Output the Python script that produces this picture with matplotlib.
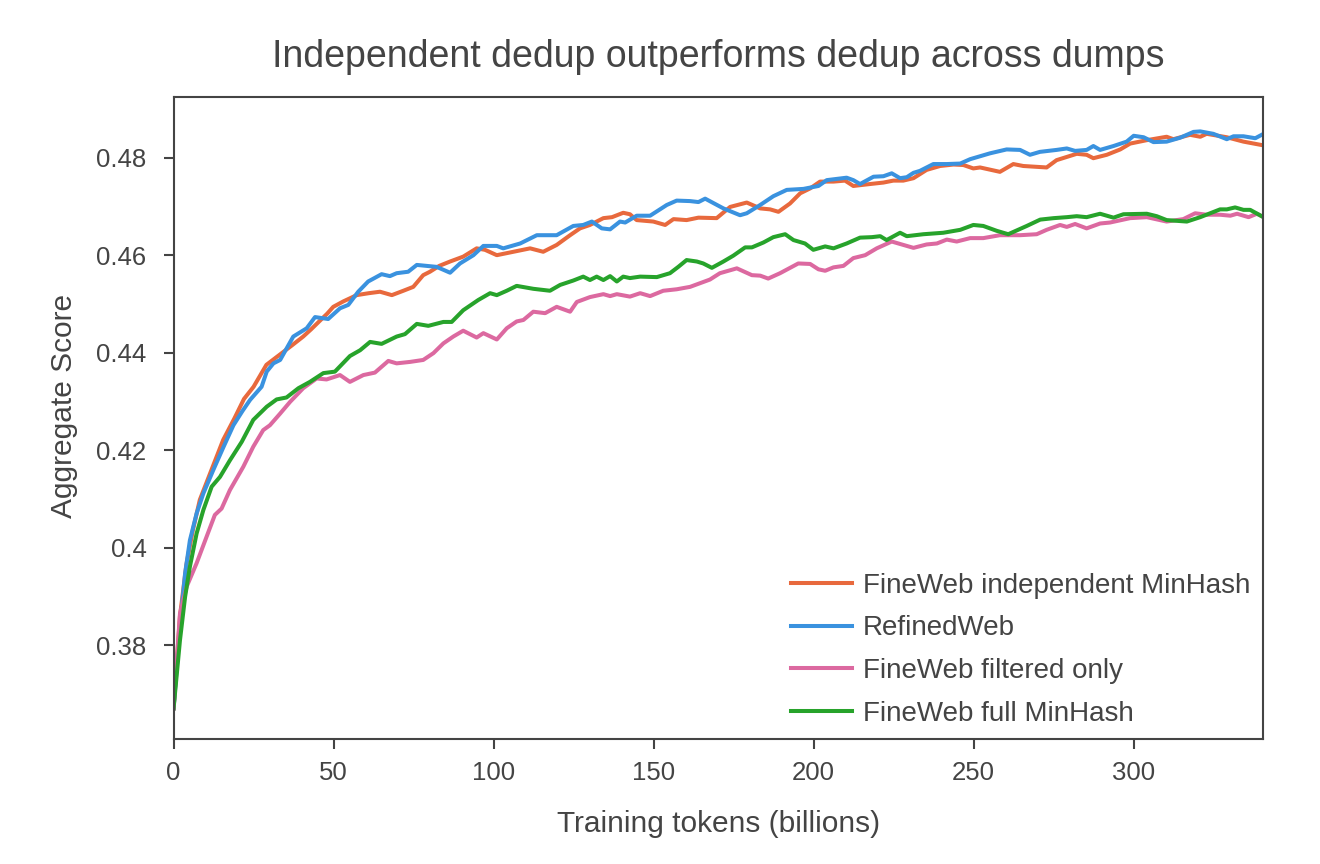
import matplotlib
matplotlib.use("Agg")
import matplotlib.pyplot as plt

plt.rcParams["font.family"] = ["Liberation Sans", "DejaVu Sans"]

# FineWeb independent MinHash
indep_x = [0, 2, 4, 6, 8.2, 11.4, 15.5, 19, 22, 25, 29, 31, 33.8, 37, 40.5, 43, 45.8, 48, 49.9, 53,
           57.2, 61, 64.5, 68.2, 71.8, 74.9, 78, 80.1, 83, 86.4, 90.5, 94.7, 97.3, 101, 106.2, 111.4,
           115.5, 119.7, 123.9, 127, 130.1, 134.3, 137, 140.5, 142.6, 144.7, 149.9, 153.6, 156.2,
           160.3, 164, 169.7, 173.9, 179.1, 183.3, 186.4, 189, 192.6, 195.8, 198.9, 202, 206.2, 209.8,
           212.4, 217.6, 221.8, 224.9, 228, 231.2, 235.3, 239.5, 243.7, 246.8, 249.9, 252, 258.2,
           262.4, 265.5, 272.8, 275.9, 282.2, 285.3, 287.4, 291.6, 295.8, 298.9, 304.1, 310.3, 312.4,
           317.6, 320.8, 322.8, 329.1, 334.3, 340]
indep_y = [0.367, 0.386, 0.3965, 0.4035, 0.4098, 0.4152, 0.4221, 0.4265, 0.4305, 0.433, 0.4375,
           0.4385, 0.4399, 0.4415, 0.4433, 0.4448, 0.4466, 0.448, 0.4494, 0.4505, 0.4518, 0.4522,
           0.4525, 0.4518, 0.4527, 0.4535, 0.4559, 0.4566, 0.4578, 0.4587, 0.4597, 0.4614, 0.4611,
           0.46, 0.4607, 0.4614, 0.4607, 0.4621, 0.4641, 0.4655, 0.4662, 0.4676, 0.4678, 0.4687,
           0.4684, 0.4672, 0.4669, 0.4662, 0.4674, 0.4672, 0.4677, 0.4676, 0.4699, 0.4708, 0.4696,
           0.4694, 0.4689, 0.4706, 0.4727, 0.4737, 0.4751, 0.4751, 0.4753, 0.4742, 0.4746, 0.4749,
           0.4753, 0.4753, 0.4758, 0.4775, 0.4783, 0.4786, 0.4785, 0.4778, 0.478, 0.4771, 0.4787,
           0.4783, 0.478, 0.4795, 0.4808, 0.4806, 0.4799, 0.4806, 0.4817, 0.4829, 0.4836, 0.4843,
           0.4838, 0.4847, 0.4843, 0.4849, 0.4842, 0.4833, 0.4826]

# RefinedWeb
refined_x = [0, 2, 3.6, 5.1, 7.2, 9.3, 12.4, 15.5, 18.7, 21.5, 23.9, 27.5, 29.1, 31.2, 33.3, 37.4,
             41.6, 44.2, 48.3, 52, 54.6, 57.7, 60.8, 65, 67.6, 69.7, 73.3, 76, 79.1, 82.2, 86.4, 89.5,
             93.7, 96.8, 101, 103, 108.3, 113.5, 119.7, 124.9, 128, 130.7, 133.8, 136.4, 139.5,
             141.1, 144.7, 148.9, 154.1, 157.2, 161.4, 164, 166.1, 171.8, 177, 179.1, 183.3, 187.4,
             191.6, 196.8, 201.5, 204.1, 210.3, 212.4, 214.5, 218.7, 221.8, 224.4, 227, 229.1, 231.2,
             233.2, 237.4, 241.6, 245.8, 248.9, 255.1, 260.3, 264.5, 267.6, 270.7, 275.9, 279.1,
             281.7, 285.3, 287.4, 289.5, 293.7, 297.8, 300, 303.1, 306.2, 310.3, 314.5, 318.7, 320.8,
             324.9, 329.1, 331.2, 334.3, 338, 340]
refined_y = [0.367, 0.384, 0.3947, 0.4015, 0.407, 0.4111, 0.4159, 0.4205, 0.4251, 0.428, 0.4303,
             0.433, 0.4361, 0.4378, 0.4385, 0.4433, 0.445, 0.4473, 0.4469, 0.4491, 0.4498, 0.4525,
             0.4546, 0.4561, 0.4557, 0.4563, 0.4566, 0.458, 0.4578, 0.4576, 0.4564, 0.4583, 0.46,
             0.4619, 0.4619, 0.4614, 0.4624, 0.4641, 0.4641, 0.466, 0.4662, 0.4669, 0.4655, 0.4653,
             0.4669, 0.4667, 0.4681, 0.4681, 0.4703, 0.4712, 0.4711, 0.4709, 0.4716, 0.4696, 0.4682,
             0.4686, 0.4703, 0.4721, 0.4734, 0.4736, 0.4742, 0.4754, 0.4759, 0.4754, 0.4746, 0.4761,
             0.4762, 0.4768, 0.4758, 0.476, 0.4769, 0.4773, 0.4787, 0.4787, 0.4788, 0.4797, 0.4809,
             0.4817, 0.4816, 0.4806, 0.4812, 0.4816, 0.4819, 0.4814, 0.4816, 0.4824, 0.4816, 0.4824,
             0.4833, 0.4845, 0.4842, 0.4832, 0.4833, 0.4841, 0.4853, 0.4854, 0.4849, 0.4838, 0.4844,
             0.4844, 0.484, 0.4847]

# FineWeb filtered only
filtered_x = [0, 2, 4.1, 7.2, 10.3, 12.9, 15, 17.6, 21.8, 24.9, 28, 30.1, 33.3, 36.4, 40.5, 44.7,
              47.8, 52, 55.1, 59.3, 62.9, 67.1, 69.7, 73.9, 78, 81.2, 84.3, 87.4, 90.5, 94.7, 96.8,
              101, 104.1, 107.2, 109.3, 112.4, 116.1, 119.7, 123.9, 126, 130.1, 134.3, 136.4, 138.5,
              142.6, 145.8, 148.9, 153, 157.2, 161.4, 167.6, 170.7, 176, 180.7, 183.3, 185.8, 189.5,
              195.2, 198.9, 201.5, 203.6, 206.2, 209.3, 212.4, 216.1, 219.7, 224.4, 227, 231.2, 235.3,
              238.5, 241.6, 244.7, 248.9, 253, 258.2, 264.5, 269.7, 272.8, 277, 279.1, 281.7, 285.3,
              289.5, 292.6, 298.9, 304.1, 310.3, 315.5, 319.2, 322.8, 327, 330.2, 332.3, 335.9, 338.5,
              340]
filtered_y = [0.367, 0.3865, 0.392, 0.3968, 0.4022, 0.4067, 0.408, 0.4118, 0.4166, 0.4207, 0.4241,
              0.4251, 0.4275, 0.4299, 0.4327, 0.4347, 0.4345, 0.4354, 0.434, 0.4354, 0.4359, 0.4383,
              0.4378, 0.4381, 0.4385, 0.4399, 0.4419, 0.4433, 0.4445, 0.4431, 0.444, 0.4427, 0.445,
              0.4464, 0.4467, 0.4484, 0.4481, 0.4494, 0.4484, 0.4504, 0.4514, 0.452, 0.4516, 0.452,
              0.4515, 0.4522, 0.4516, 0.4527, 0.453, 0.4535, 0.455, 0.4563, 0.4573, 0.4559, 0.4558,
              0.4552, 0.4563, 0.4583, 0.4582, 0.4571, 0.4568, 0.4575, 0.4578, 0.4594, 0.46, 0.4614,
              0.4628, 0.4623, 0.4615, 0.4622, 0.4624, 0.4632, 0.4628, 0.4635, 0.4635, 0.4641, 0.4641,
              0.4643, 0.4652, 0.4662, 0.4658, 0.4664, 0.4655, 0.4665, 0.4667, 0.4676, 0.4678, 0.4669,
              0.4674, 0.4686, 0.4683, 0.4683, 0.4681, 0.4685, 0.4678, 0.4685, 0.468]

# FineWeb full MinHash
full_x = [0, 2, 3.6, 5.1, 7.2, 9.3, 11.9, 14.5, 17.6, 21.3, 24.9, 29.1, 32.2, 35.3, 39, 42.6, 46.8,
          50.4, 55.1, 58.3, 61.4, 65, 69.7, 72.3, 76, 79.6, 84.3, 86.9, 90.5, 95.2, 98.9, 101, 104.1,
          107.2, 112.4, 117.6, 120.8, 124.9, 128, 130.1, 132.2, 134.3, 136.4, 138.5, 140.5, 142.6,
          145.8, 151, 155.1, 157.7, 160.3, 163.5, 165.5, 168.2, 171.8, 174.9, 178.6, 180.7, 184.3,
          187.4, 191.1, 193.7, 197.3, 199.9, 203.6, 206.2, 210.3, 214.5, 218.2, 220.8, 222.8, 227,
          229.1, 234.3, 240.5, 245.8, 249.9, 253, 257.2, 260.8, 266.6, 270.8, 275, 279.1, 282.2,
          285.3, 289.5, 293.7, 296.8, 304.1, 307.2, 310.3, 316.6, 320.8, 327, 329.1, 331.7, 334.3,
          336.4, 340]
full_y = [0.367, 0.381, 0.3899, 0.3961, 0.4029, 0.4077, 0.4125, 0.4145, 0.4179, 0.4217, 0.4262,
          0.4289, 0.4304, 0.4308, 0.4327, 0.434, 0.4358, 0.4361, 0.4393, 0.4405, 0.4422, 0.4418,
          0.4433, 0.4438, 0.4459, 0.4455, 0.4463, 0.4463, 0.4487, 0.4508, 0.4522, 0.4518, 0.4527,
          0.4537, 0.4531, 0.4527, 0.4539, 0.4548, 0.4556, 0.4549, 0.4556, 0.4549, 0.4557, 0.4546,
          0.4556, 0.4553, 0.4556, 0.4555, 0.4563, 0.4576, 0.459, 0.4587, 0.4583, 0.4574, 0.4587,
          0.4599, 0.4616, 0.4616, 0.4626, 0.4637, 0.4643, 0.4631, 0.4624, 0.4611, 0.4618, 0.4614,
          0.4624, 0.4636, 0.4637, 0.4639, 0.4631, 0.4646, 0.4639, 0.4643, 0.4646, 0.4652, 0.4662,
          0.466, 0.465, 0.4643, 0.466, 0.4673, 0.4676, 0.4678, 0.468, 0.4678, 0.4685, 0.4677,
          0.4684, 0.4685, 0.468, 0.4672, 0.4669, 0.4678, 0.4694, 0.4694, 0.4698, 0.4693, 0.4693,
          0.468]

y_ticks = [0.38, 0.40, 0.42, 0.44, 0.46, 0.48]
y_tick_labels = ["0.38", "0.4", "0.42", "0.44", "0.46", "0.48"]
x_ticks = [0, 50, 100, 150, 200, 250, 300]

text_color = "#444444"

fig = plt.figure(figsize=(13.2, 8.64), dpi=100)
ax = fig.add_axes([0.1315, 0.1443, 0.8253, 0.7431])

lw = 2.9
ax.plot(indep_x, indep_y, color="#e8693d", lw=lw, label="FineWeb independent MinHash")
ax.plot(refined_x, refined_y, color="#3a92df", lw=lw, label="RefinedWeb")
ax.plot(filtered_x, filtered_y, color="#dc69a0", lw=lw, label="FineWeb filtered only")
ax.plot(full_x, full_y, color="#27a32b", lw=lw, label="FineWeb full MinHash")

ax.set_xlim(0, 340.4)
ax.set_ylim(0.36065, 0.4924)
ax.set_xticks(x_ticks)
ax.set_yticks(y_ticks)
ax.set_yticklabels(y_tick_labels)

for side in ["left", "right", "top", "bottom"]:
    ax.spines[side].set_color(text_color)
    ax.spines[side].set_linewidth(1.5)

ax.tick_params(axis="both", direction="out", length=7.5, width=1.5,
               color=text_color, labelcolor=text_color, labelsize=18.5)
ax.tick_params(axis="x", pad=8)
ax.tick_params(axis="y", pad=12)

fig.text(0.544, 0.934, "Independent dedup outperforms dedup across dumps",
         fontsize=27, color=text_color, ha="center", va="center")
fig.text(0.544, 0.0463, "Training tokens (billions)",
         fontsize=21.5, color=text_color, ha="center", va="center")
fig.text(0.0485, 0.53, "Aggregate Score", rotation=90,
         fontsize=21.5, color=text_color, ha="center", va="center")

leg = ax.legend(loc="lower right", bbox_to_anchor=(1.0, 0.0), frameon=False,
                fontsize=20, handlelength=2.2, handletextpad=0.4, labelspacing=0.6,
                borderaxespad=0.05)
for t in leg.get_texts():
    t.set_color(text_color)

fig.savefig("out.png", dpi=100, facecolor="white")
